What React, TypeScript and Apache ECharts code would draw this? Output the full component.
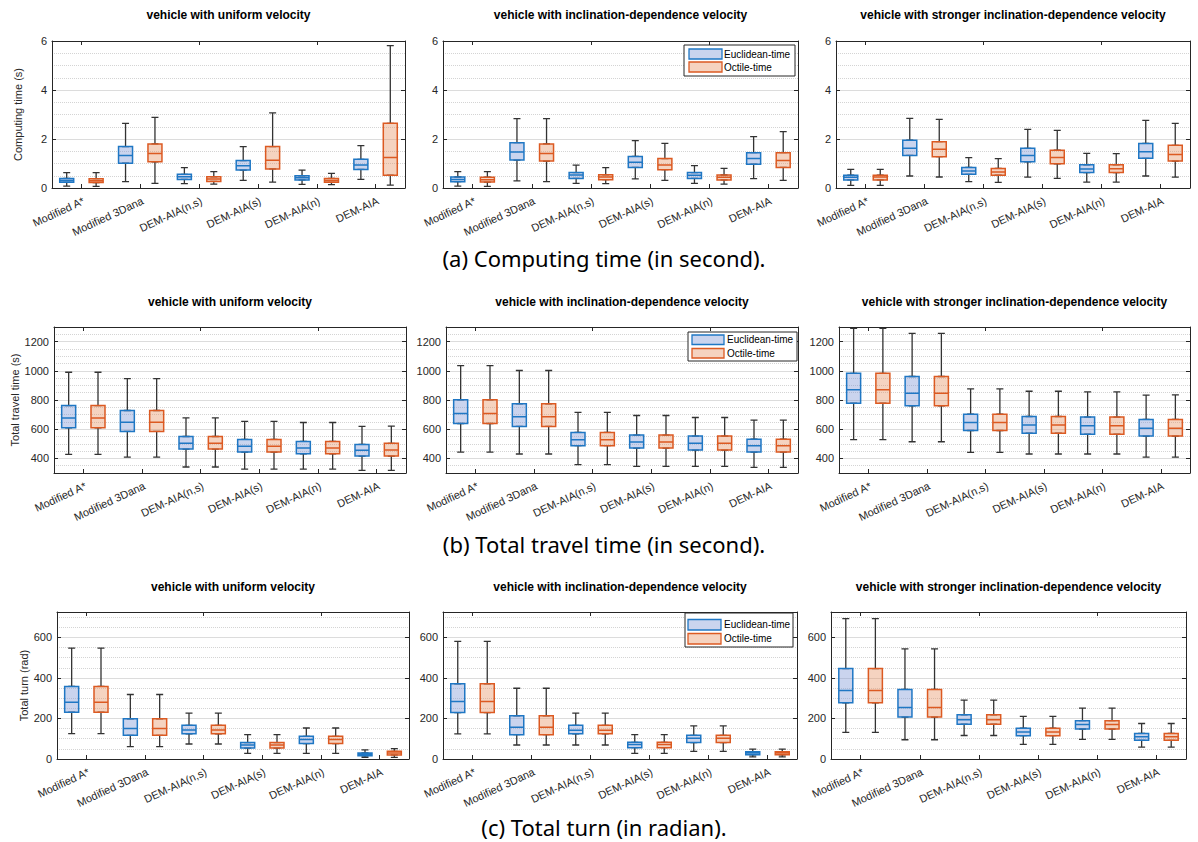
import React, { useEffect, useRef } from 'react';
import * as echarts from 'echarts';

// ---------- data ----------
const categories = ['Modified A*', 'Modified 3Dana', 'DEM-AIA(n,s)', 'DEM-AIA(s)', 'DEM-AIA(n)', 'DEM-AIA'];
const scenarioTitles = [
  'vehicle with uniform velocity',
  'vehicle with inclination-dependence velocity',
  'vehicle with stronger inclination-dependence velocity',
];
const seriesNames = ['Euclidean-time', 'Octile-time'];
const metricNames = ['Computing time (s)', 'Total travel time (s)', 'Total turn (rad)'];
const captions = [
  '(a) Computing time (in second).',
  '(b) Total travel time (in second).',
  '(c) Total turn (in radian).',
];
const computeTickLabels = [0, 2, 4, 6];
const travelTickLabels = [400, 600, 800, 1000, 1200];
const turnTickLabels = [0, 200, 400, 600];

// each entry: [min, Q1, median, Q3, max]
const computeUniformEuclid = [[0.08, 0.23, 0.31, 0.39, 0.63], [0.26, 1.01, 1.33, 1.69, 2.64], [0.18, 0.35, 0.46, 0.56, 0.83], [0.31, 0.73, 0.91, 1.12, 1.69], [0.15, 0.33, 0.42, 0.50, 0.73], [0.35, 0.76, 0.94, 1.17, 1.73]];
const computeUniformOctile = [[0.07, 0.22, 0.30, 0.38, 0.63], [0.19, 1.07, 1.41, 1.80, 2.88], [0.16, 0.27, 0.37, 0.46, 0.67], [0.24, 0.78, 1.13, 1.69, 3.07], [0.14, 0.23, 0.31, 0.39, 0.60], [0.12, 0.52, 1.25, 2.64, 5.81]];
const computeInclEuclid = [[0.08, 0.26, 0.35, 0.45, 0.67], [0.29, 1.14, 1.47, 1.85, 2.83], [0.19, 0.39, 0.53, 0.63, 0.93], [0.37, 0.84, 1.05, 1.29, 1.93], [0.19, 0.39, 0.52, 0.63, 0.91], [0.38, 0.97, 1.20, 1.44, 2.10]];
const computeInclOctile = [[0.07, 0.24, 0.34, 0.44, 0.67], [0.26, 1.10, 1.41, 1.80, 2.83], [0.18, 0.34, 0.45, 0.54, 0.83], [0.31, 0.75, 0.94, 1.20, 1.82], [0.16, 0.33, 0.44, 0.53, 0.80], [0.31, 0.84, 1.12, 1.44, 2.30]];
const computeStrongEuclid = [[0.11, 0.33, 0.44, 0.52, 0.76], [0.49, 1.33, 1.62, 1.95, 2.84], [0.26, 0.56, 0.69, 0.84, 1.24], [0.44, 1.07, 1.33, 1.62, 2.39], [0.24, 0.63, 0.78, 0.95, 1.41], [0.49, 1.21, 1.48, 1.82, 2.76]];
const computeStrongOctile = [[0.11, 0.33, 0.45, 0.52, 0.76], [0.45, 1.28, 1.58, 1.89, 2.80], [0.23, 0.52, 0.65, 0.80, 1.20], [0.39, 0.99, 1.25, 1.54, 2.35], [0.24, 0.63, 0.79, 0.95, 1.40], [0.44, 1.10, 1.37, 1.74, 2.64]];

const travelUniformEuclid = [[427, 610, 676, 762, 990], [409, 585, 648, 728, 947], [341, 464, 503, 550, 678], [327, 443, 484, 530, 653], [327, 432, 471, 516, 646], [318, 416, 455, 496, 619]];
const travelUniformOctile = [[427, 610, 676, 762, 990], [409, 585, 648, 728, 947], [341, 464, 503, 550, 678], [327, 443, 484, 530, 653], [327, 432, 471, 516, 646], [318, 416, 457, 503, 621]];
const travelInclEuclid = [[443, 639, 708, 801, 1036], [430, 619, 685, 774, 1002], [357, 487, 528, 578, 715], [345, 471, 512, 560, 694], [345, 457, 503, 553, 680], [338, 443, 487, 532, 662]];
const travelInclOctile = [[443, 639, 708, 801, 1036], [430, 619, 685, 774, 1002], [357, 487, 528, 578, 715], [345, 471, 512, 560, 694], [345, 457, 503, 553, 680], [338, 443, 487, 532, 662]];
const travelStrongEuclid = [[528, 778, 870, 983, 1291], [514, 760, 847, 961, 1257], [441, 591, 646, 703, 876], [430, 573, 628, 687, 860], [430, 566, 623, 683, 856], [409, 553, 607, 667, 833]];
const travelStrongOctile = [[528, 778, 870, 983, 1291], [514, 760, 847, 961, 1257], [441, 591, 646, 703, 876], [430, 573, 628, 687, 860], [430, 566, 623, 683, 856], [409, 553, 607, 667, 835]];

const turnUniformEuclid = [[125, 231, 280, 358, 547], [61, 117, 150, 198, 318], [74, 124, 143, 166, 226], [28, 54, 69, 81, 120], [28, 76, 96, 112, 153], [8, 16, 23, 30, 45]];
const turnUniformOctile = [[125, 231, 280, 358, 547], [61, 117, 150, 198, 318], [74, 124, 143, 166, 226], [28, 54, 69, 81, 120], [28, 76, 96, 112, 153], [8, 20, 30, 38, 51]];
const turnInclEuclid = [[124, 229, 284, 371, 580], [69, 120, 157, 213, 349], [69, 124, 142, 166, 226], [28, 56, 71, 82, 120], [38, 81, 102, 117, 163], [10, 21, 30, 36, 49]];
const turnInclOctile = [[124, 229, 284, 371, 580], [69, 120, 157, 213, 349], [69, 124, 142, 166, 226], [28, 56, 71, 82, 120], [38, 81, 102, 117, 163], [10, 21, 30, 36, 49]];
const turnStrongEuclid = [[131, 277, 338, 446, 692], [95, 207, 254, 343, 543], [116, 172, 193, 218, 290], [72, 115, 133, 152, 210], [97, 148, 170, 189, 251], [59, 92, 110, 126, 175]];
const turnStrongOctile = [[131, 277, 338, 446, 692], [95, 207, 254, 343, 543], [116, 172, 193, 218, 290], [72, 115, 133, 152, 210], [97, 148, 170, 189, 251], [59, 92, 110, 126, 175]];

// ---------- styling ----------
const EUC_STROKE = '#1f77c4';
const EUC_FILL = 'rgba(122,148,213,0.4)';
const OCT_STROKE = '#dc5a22';
const OCT_FILL = 'rgba(230,145,98,0.4)';
const WHISKER = '#333333';
const AXIS = '#262626';
const FONT = '"Liberation Sans", Arial, Helvetica, sans-serif';
const CAPTION_FONT = '"Noto Sans", "DejaVu Sans", sans-serif';

const rows = [
  {
    data: [[computeUniformEuclid, computeUniformOctile], [computeInclEuclid, computeInclOctile], [computeStrongEuclid, computeStrongOctile]],
    min: 0, max: 6, minor: 0.5, ticks: computeTickLabels, name: metricNames[0], nameGap: 29,
    top: 41, bottom: 188, x: [[52, 405], [443, 798], [836, 1190]],
    titleY: 15, captionY: 258, caption: captions[0],
    legend: { x: 684, y: 45, w: 111, h: 31, ix: 689, iw: 33, ih: 10, iy: [49, 62], tx: 724 },
  },
  {
    data: [[travelUniformEuclid, travelUniformOctile], [travelInclEuclid, travelInclOctile], [travelStrongEuclid, travelStrongOctile]],
    min: 300, max: 1300, minor: 50, ticks: travelTickLabels, name: metricNames[1], nameGap: 31,
    top: 327, bottom: 473, x: [[54, 406], [446, 798], [839, 1190]],
    titleY: 301.5, captionY: 544, caption: captions[1],
    legend: { x: 688, y: 332, w: 109, h: 29, ix: 692, iw: 32, ih: 9.5, iy: [335, 348.5], tx: 727 },
  },
  {
    data: [[turnUniformEuclid, turnUniformOctile], [turnInclEuclid, turnInclOctile], [turnStrongEuclid, turnStrongOctile]],
    min: 0, max: 725, minor: 50, ticks: turnTickLabels, name: metricNames[2], nameGap: 28,
    top: 612, bottom: 759, x: [[57, 409], [443, 797], [831, 1186]],
    titleY: 586.5, captionY: 827, caption: captions[2],
    legend: { x: 685, y: 613, w: 108, h: 34, ix: 688, iw: 33, ih: 10.5, iy: [619.5, 633.5], tx: 724 },
  },
];

function buildOption() {
  const grid: any[] = [];
  const xAxis: any[] = [];
  const yAxis: any[] = [];
  const series: any[] = [];
  const graphic: any[] = [];
  const slotNames = Array.from({ length: categories.length * 2 }, (_, i) => 's' + i);

  rows.forEach((row) => {
    row.x.forEach(([l, rgt], c) => {
      const g = grid.length;
      grid.push({ left: l, top: row.top, width: rgt - l, height: row.bottom - row.top, containLabel: false });

      const xb = xAxis.length;
      for (let k = 0; k < 3; k++) {
        xAxis.push({ type: 'category', gridIndex: g, data: slotNames, show: false, boundaryGap: true });
      }
      const catAxisBase = {
        type: 'category', gridIndex: g, data: categories, boundaryGap: true,
        axisLine: { show: true, onZero: false, lineStyle: { color: AXIS, width: 1 } },
        axisTick: { show: true, inside: true, alignWithLabel: true, length: 4, lineStyle: { color: AXIS } },
        splitLine: { show: false },
      };
      xAxis.push({
        ...catAxisBase, position: 'bottom',
        axisLabel: { show: true, interval: 0, rotate: 25, margin: 7, align: 'right', verticalAlign: 'top', fontSize: 11, fontFamily: FONT, color: AXIS },
      });
      xAxis.push({ ...catAxisBase, position: 'top', axisLabel: { show: false } });

      const yb = yAxis.length;
      // minor dotted grid
      yAxis.push({
        type: 'value', gridIndex: g, position: 'left', min: row.min, max: row.max, interval: row.minor,
        axisLine: { show: false }, axisTick: { show: false }, axisLabel: { show: false },
        splitLine: { show: true, lineStyle: { color: '#d4d4d4', type: 'dotted', width: 1 } },
      });
      // main left axis
      yAxis.push({
        type: 'value', gridIndex: g, position: 'left', min: row.min, max: row.max,
        name: c === 0 ? row.name : '', nameLocation: 'middle', nameGap: row.nameGap,
        nameTextStyle: { fontSize: 11, fontFamily: FONT, color: AXIS },
        axisLine: { show: true, onZero: false, lineStyle: { color: AXIS, width: 1 } },
        axisTick: { show: true, inside: true, length: 4, customValues: row.ticks, lineStyle: { color: AXIS } },
        axisLabel: {
          show: true, customValues: row.ticks, margin: 5, fontSize: 11, fontFamily: FONT, color: AXIS,
          formatter: (v: number) => String(v),
        },
        splitLine: { show: true, lineStyle: { color: '#dcdcdc', width: 1, type: 'solid' } },
      });
      // right axis (box)
      yAxis.push({
        type: 'value', gridIndex: g, position: 'right', min: row.min, max: row.max,
        axisLine: { show: true, onZero: false, lineStyle: { color: AXIS, width: 1 } },
        axisTick: { show: true, inside: true, length: 4, customValues: row.ticks, lineStyle: { color: AXIS } },
        axisLabel: { show: false },
        splitLine: { show: false },
      });

      const [euc, oct] = row.data[c];
      const items: { v: number[]; stroke: string; fill: string }[] = [];
      categories.forEach((_, i) => {
        items.push({ v: euc[i], stroke: EUC_STROKE, fill: EUC_FILL });
        items.push({ v: oct[i], stroke: OCT_STROKE, fill: OCT_FILL });
      });

      const whiskerStyle = { color: 'rgba(0,0,0,0)', borderColor: WHISKER, borderWidth: 1.3 };
      series.push({
        type: 'boxplot', xAxisIndex: xb, yAxisIndex: yb + 1, silent: true, boxWidth: [7, 7],
        itemStyle: whiskerStyle, z: 2,
        data: items.map((it) => [it.v[0], it.v[1], it.v[1], it.v[1], it.v[1]]),
      });
      series.push({
        type: 'boxplot', xAxisIndex: xb + 1, yAxisIndex: yb + 1, silent: true, boxWidth: [7, 7],
        itemStyle: whiskerStyle, z: 2,
        data: items.map((it) => [it.v[3], it.v[3], it.v[3], it.v[3], it.v[4]]),
      });
      series.push({
        type: 'boxplot', xAxisIndex: xb + 2, yAxisIndex: yb + 1, silent: true, boxWidth: [14, 14], z: 3,
        data: items.map((it) => ({
          value: [it.v[1], it.v[1], it.v[2], it.v[3], it.v[3]],
          itemStyle: { color: it.fill, borderColor: it.stroke, borderWidth: 1.5 },
        })),
      });

      graphic.push({
        type: 'text', x: (l + rgt) / 2, y: row.titleY, silent: true, z: 100,
        style: {
          text: scenarioTitles[c], font: `bold 12px ${FONT}`, fill: '#000',
          align: 'center', verticalAlign: 'middle', textAlign: 'center', textVerticalAlign: 'middle',
        },
      });
    });

    graphic.push({
      type: 'text', x: 604, y: row.captionY, silent: true, z: 100,
      style: {
        text: row.caption, font: `22px ${CAPTION_FONT}`, fill: '#000',
        align: 'center', verticalAlign: 'middle', textAlign: 'center', textVerticalAlign: 'middle',
      },
    });

    const lg = row.legend;
    graphic.push({
      type: 'rect', silent: true, z: 100,
      shape: { x: lg.x, y: lg.y, width: lg.w, height: lg.h },
      style: { fill: '#fff', stroke: AXIS, lineWidth: 1 },
    });
    seriesNames.forEach((nm, k) => {
      graphic.push({
        type: 'rect', silent: true, z: 101,
        shape: { x: lg.ix, y: lg.iy[k], width: lg.iw, height: lg.ih },
        style: { fill: k === 0 ? EUC_FILL : OCT_FILL, stroke: k === 0 ? EUC_STROKE : OCT_STROKE, lineWidth: 1.3 },
      });
      graphic.push({
        type: 'text', silent: true, z: 101, x: lg.tx, y: lg.iy[k] + lg.ih / 2,
        style: {
          text: nm, font: `10px ${FONT}`, fill: '#000',
          align: 'left', verticalAlign: 'middle', textAlign: 'left', textVerticalAlign: 'middle',
        },
      });
    });
  });

  return {
    animation: false,
    backgroundColor: '#ffffff',
    grid, xAxis, yAxis, series, graphic,
  };
}

export default function App() {
  const ref = useRef<HTMLDivElement>(null);
  useEffect(() => {
    if (!ref.current) return;
    const chart = echarts.init(ref.current, null, { renderer: 'svg', width: 1198, height: 842 });
    chart.setOption(buildOption() as any);
    return () => chart.dispose();
  }, []);
  return (
    <div
      ref={ref}
      style={{ position: 'absolute', left: 0, top: 0, width: 1198, height: 842, background: '#fff' }}
    />
  );
}
